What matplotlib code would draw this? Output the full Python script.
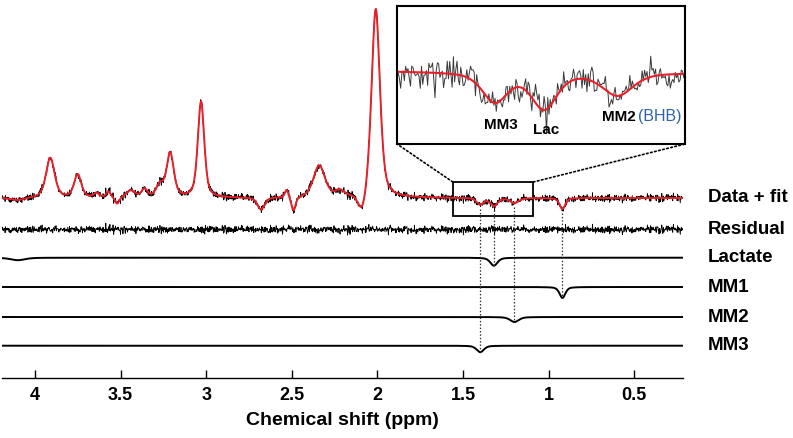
import numpy as np
import matplotlib
matplotlib.use('Agg')
import matplotlib.pyplot as plt
import matplotlib.transforms as mtransforms
from matplotlib.patches import Rectangle, ConnectionPatch

plt.rcParams['font.family'] = ['Liberation Sans', 'DejaVu Sans']

# ---------------- data ----------------
# fitted metabolite peaks: position (ppm), height (a.u.), width (ppm)
peak_ppm    = [3.91, 3.75, 3.64, 3.57, 3.52, 3.44, 3.36, 3.27, 3.21, 3.03,
               2.68, 2.53, 2.49, 2.34, 2.22, 2.09, 2.01]
peak_height = [40, 23, 4, 6, -7, 7, 8, 12, 44, 96,
               -12, 8, -14, 32, 6, -20, 190]
peak_fwhm   = [0.06, 0.05, 0.04, 0.03, 0.03, 0.06, 0.04, 0.05, 0.05, 0.045,
               0.05, 0.025, 0.03, 0.08, 0.06, 0.06, 0.058]

# fitted components (negative, edited spectrum)
lactate_ppm, lactate_amp, lactate_fwhm = [4.10, 1.32], [-2.5, -8.0], [0.10, 0.05]
mm1_ppm, mm1_amp, mm1_fwhm = [0.92], [-11.0], [0.04]
mm2_ppm, mm2_amp, mm2_fwhm = [1.20], [-5.0], [0.06]
mm3_ppm, mm3_amp, mm3_fwhm = [1.40], [-6.5], [0.05]

row_labels = ['Data + fit', 'Residual', 'Lactate', 'MM1', 'MM2', 'MM3']
tick_values = [4, 3.5, 3, 2.5, 2, 1.5, 1, 0.5]
tick_labels = ['4', '3.5', '3', '2.5', '2', '1.5', '1', '0.5']
noise_sd = 1.75         # measurement noise level (a.u.)

# ---------------- layout ----------------
W, H = 793, 438
row_y = [198, 229.5, 257.7, 287, 317, 345.7]   # baseline of each trace (px from top)
ppm_left, ppm_right = 4.192, 0.216
zoom_lo, zoom_hi = 1.09, 1.56
inset_mag = 4.5


def pv(x, c, a, w, eta=0.5):
    d = (x - c) / w
    return a * (eta / (1 + 4 * d ** 2) + (1 - eta) * np.exp(-4 * np.log(2) * d ** 2))


def model(x, cs, amps, ws):
    y = np.zeros_like(x)
    for c, a, w in zip(cs, amps, ws):
        y += pv(x, c, a, w)
    return y


ppm = np.arange(ppm_left, ppm_right, -0.002)
lac = model(ppm, lactate_ppm, lactate_amp, lactate_fwhm)
mm1 = model(ppm, mm1_ppm, mm1_amp, mm1_fwhm)
mm2 = model(ppm, mm2_ppm, mm2_amp, mm2_fwhm)
mm3 = model(ppm, mm3_ppm, mm3_amp, mm3_fwhm)
fit = model(ppm, peak_ppm, peak_height, peak_fwhm) + lac + mm1 + mm2 + mm3
noise = np.random.default_rng(11).normal(0, noise_sd, ppm.size)
data = fit + noise
resid = data - fit

fig = plt.figure(figsize=(W / 100, H / 100), dpi=100)
ax_bottom = 377.5
ax = fig.add_axes([2 / W, 1 - ax_bottom / H, (683 - 2) / W, ax_bottom / H])
ax.set_xlim(ppm_left, ppm_right)
ax.set_ylim(-ax_bottom, 0)

red = '#e8202a'
ax.plot(ppm, data - row_y[0], color='black', lw=0.6)
ax.plot(ppm, fit - row_y[0], color=red, lw=1.4)
ax.plot(ppm, resid - row_y[1], color='black', lw=0.6)
for comp, yb in zip([lac, mm1, mm2, mm3], row_y[2:]):
    ax.plot(ppm, comp - yb, color='black', lw=1.4)

# vertical dotted guides
for cs, yb, comp in [(mm3_ppm[0], row_y[5], mm3), (lactate_ppm[1], row_y[2], lac),
                     (mm2_ppm[0], row_y[4], mm2), (mm1_ppm[0], row_y[3], mm1)]:
    i = np.argmin(np.abs(ppm - cs))
    ax.plot([cs, cs], [fit[i] - row_y[0] - 4, comp[i] - yb],
            color='#333333', lw=0.9, ls=(0, (1.2, 1.5)))

# zoom box in main axes
rect = Rectangle((zoom_hi, -216), zoom_lo - zoom_hi, 34, fill=False, ec='black', lw=1.3)
ax.add_patch(rect)

for s in ['top', 'left', 'right']:
    ax.spines[s].set_visible(False)
ax.spines['bottom'].set_linewidth(1.0)
ax.set_yticks([])
ax.set_xticks(tick_values)
ax.set_xticklabels(tick_labels, fontsize=13, fontweight='bold')
ax.tick_params(axis='x', direction='in', length=6, width=1.0, pad=6.5)
ax.set_xlabel('Chemical shift (ppm)', fontsize=14, fontweight='bold', labelpad=6)

# row labels
trans = mtransforms.blended_transform_factory(fig.transFigure, ax.transData)
for lab, yb in zip(row_labels, row_y):
    ax.text(708 / W, -yb, lab, transform=trans, ha='left', va='center',
            fontsize=13.5, fontweight='bold', clip_on=False)

# inset
ins = fig.add_axes([397 / W, 1 - 144 / H, (685 - 397) / W, (144 - 6) / H])
ins.set_xlim(zoom_hi, zoom_lo)
ins.set_ylim(-71 / inset_mag, 67 / inset_mag)
ins.plot(ppm, data, color='#3a3a3a', lw=0.7)
ins.plot(ppm, fit, color=red, lw=1.5)
ins.set_xticks([])
ins.set_yticks([])
for s in ins.spines.values():
    s.set_linewidth(1.5)
ins.text(1.391, -52 / inset_mag, 'MM3', ha='center', va='center', fontsize=11, fontweight='bold')
ins.text(1.317, -57 / inset_mag, 'Lac', ha='center', va='center', fontsize=11, fontweight='bold')
ins.text(1.170, -44 / inset_mag, 'MM2', ha='right', va='center', fontsize=11, fontweight='bold')
ins.text(1.166, -44 / inset_mag, '(BHB)', ha='left', va='center', fontsize=11.5, color='#2f62ad')

for xa, xb in [(zoom_hi, 0), (zoom_lo, 1)]:
    con = ConnectionPatch(xyA=(xa, -182), coordsA=ax.transData, xyB=(xb, 0),
                          coordsB=ins.transAxes, color='black', lw=1.2, ls=(0, (1, 1.5)))
    fig.add_artist(con)

fig.savefig('out.png', dpi=100)
